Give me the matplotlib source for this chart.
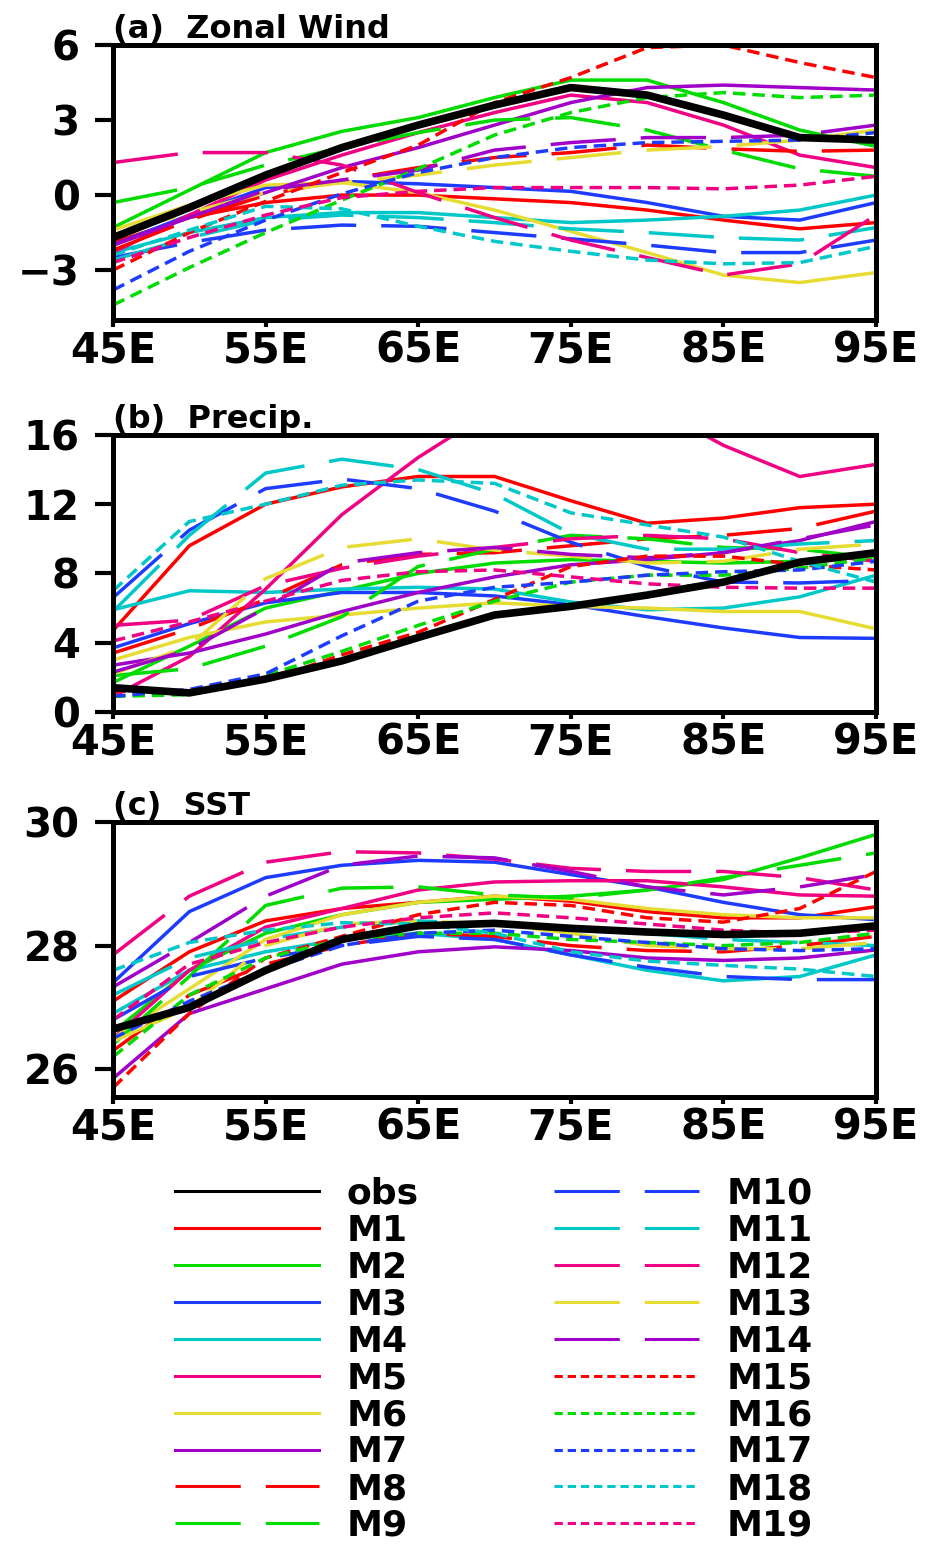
import matplotlib
matplotlib.use('Agg')
import matplotlib.pyplot as plt
from matplotlib.lines import Line2D

plt.rcParams['font.family'] = ['DejaVu Sans']
plt.rcParams['font.weight'] = 'bold'
plt.rcParams['lines.scale_dashes'] = False

# longitude grid (every 5 degrees)
lon = [45, 50, 55, 60, 65, 70, 75, 80, 85, 90, 95]
lon_ticks = [45, 55, 65, 75, 85, 95]
lon_labels = ['45E', '55E', '65E', '75E', '85E', '95E']
model_names = ['M%d' % i for i in range(1, 20)]

# (a) zonal wind
uwind_obs = [-1.7, -0.5, 0.8, 1.9, 2.8, 3.6, 4.3, 4.0, 3.2, 2.3, 2.2]
uwind_models = [
    [-1.9, -0.9, -0.3, 0.0, 0.0, -0.15, -0.3, -0.6, -1.0, -1.35, -1.1],   # M1
    [-1.3, 0.2, 1.7, 2.55, 3.1, 3.9, 4.6, 4.6, 3.7, 2.6, 1.95],          # M2
    [-2.0, -0.8, 0.3, 0.55, 0.45, 0.3, 0.15, -0.3, -0.85, -1.0, -0.3],   # M3
    [-2.3, -1.5, -0.9, -0.7, -0.7, -0.9, -1.1, -1.0, -0.85, -0.6, 0.0],  # M4
    [-2.3, -0.8, 0.6, 1.6, 2.5, 3.3, 4.0, 3.7, 2.8, 1.6, 1.1],           # M5
    [-1.4, -0.4, 0.4, 0.5, 0.1, -0.6, -1.45, -2.3, -3.2, -3.5, -3.1],    # M6
    [-2.0, -0.9, 0.1, 1.1, 1.9, 2.8, 3.7, 4.3, 4.4, 4.3, 4.2],           # M7
    [-2.2, -1.0, 0.0, 0.6, 1.1, 1.5, 1.7, 2.0, 1.85, 1.75, 1.8],         # M8
    [-0.3, 0.3, 1.2, 1.9, 2.5, 3.0, 3.1, 2.6, 1.8, 1.05, 0.75],          # M9
    [-2.5, -1.9, -1.4, -1.2, -1.25, -1.5, -1.75, -2.0, -2.3, -2.3, -1.8],  # M10
    [-2.6, -1.7, -1.0, -0.8, -0.9, -1.1, -1.35, -1.5, -1.7, -1.8, -1.3],   # M11
    [1.3, 1.7, 1.7, 1.2, 0.1, -0.9, -1.8, -2.5, -3.2, -2.75, -0.8],      # M12
    [-1.6, -0.7, 0.1, 0.5, 0.8, 1.2, 1.5, 1.8, 1.95, 2.2, 2.6],          # M13
    [-2.0, -0.9, 0.2, 0.6, 1.0, 1.8, 2.1, 2.3, 2.3, 2.4, 2.8],           # M14
    [-3.0, -1.5, -0.25, 0.9, 2.0, 3.7, 4.7, 5.9, 6.0, 5.3, 4.7],         # M15
    [-4.4, -2.9, -1.5, -0.2, 1.05, 2.4, 3.3, 3.9, 4.1, 3.9, 4.0],        # M16
    [-3.8, -2.25, -1.0, 0.05, 0.9, 1.5, 1.9, 2.1, 2.15, 2.2, 2.5],       # M17
    [-2.4, -1.4, -0.45, -0.55, -1.25, -1.85, -2.25, -2.6, -2.75, -2.7, -2.05],  # M18
    [-2.7, -1.7, -0.8, -0.1, 0.15, 0.3, 0.3, 0.3, 0.25, 0.4, 0.75],      # M19
]

# (b) precipitation
precip_obs = [1.4, 1.1, 1.9, 2.95, 4.3, 5.6, 6.1, 6.75, 7.5, 8.65, 9.2]
precip_models = [
    [4.7, 9.6, 12.0, 13.0, 13.6, 13.6, 12.2, 10.9, 11.2, 11.8, 12.0],   # M1
    [1.7, 3.8, 6.0, 7.0, 8.0, 8.6, 8.8, 8.7, 8.6, 8.7, 9.0],            # M2
    [3.7, 5.1, 6.3, 6.9, 6.9, 6.7, 6.2, 5.5, 4.85, 4.3, 4.25],          # M3
    [5.9, 7.0, 6.9, 7.1, 7.2, 7.1, 6.35, 5.9, 6.0, 6.65, 7.9],          # M4
    [0.9, 3.2, 7.1, 11.4, 14.7, 17.5, 18.6, 17.8, 15.4, 13.6, 14.3],    # M5
    [3.0, 4.3, 5.2, 5.6, 6.0, 6.3, 6.1, 6.0, 5.8, 5.8, 4.8],            # M6
    [2.7, 3.4, 4.5, 5.8, 6.9, 7.8, 8.5, 8.8, 9.2, 9.9, 11.0],           # M7
    [3.4, 4.8, 6.5, 8.5, 9.1, 9.2, 9.6, 10.0, 10.2, 10.6, 11.6],        # M8
    [2.1, 2.5, 3.8, 5.5, 8.4, 9.4, 10.2, 10.0, 9.5, 9.4, 8.9],          # M9
    [6.6, 10.5, 12.9, 13.45, 12.9, 11.6, 9.8, 8.4, 7.5, 7.45, 7.6],     # M10
    [5.8, 10.2, 13.8, 14.6, 14.0, 12.6, 10.3, 9.4, 9.4, 9.7, 9.9],      # M11
    [5.0, 5.3, 7.3, 8.3, 9.0, 9.5, 10.0, 10.2, 10.0, 9.2, 8.7],         # M12
    [2.2, 3.8, 7.7, 9.5, 10.0, 9.35, 9.0, 8.6, 8.7, 9.4, 9.7],          # M13
    [2.3, 3.6, 6.0, 8.6, 9.2, 9.5, 9.1, 8.9, 9.2, 10.0, 10.8],          # M14
    [1.2, 1.2, 1.8, 3.3, 4.6, 6.5, 8.4, 9.0, 9.0, 8.5, 8.2],            # M15
    [0.9, 1.0, 2.1, 3.5, 5.0, 6.4, 7.5, 7.9, 7.9, 8.3, 8.9],            # M16
    [0.9, 1.3, 2.2, 4.4, 6.4, 7.2, 7.5, 7.9, 8.1, 8.2, 8.7],            # M17
    [7.0, 11.0, 12.0, 13.1, 13.4, 13.2, 11.5, 10.8, 10.1, 8.7, 7.5],    # M18
    [4.1, 5.2, 6.4, 7.6, 8.1, 8.2, 7.8, 7.4, 7.2, 7.15, 7.15],          # M19
]

# (c) SST
sst_obs = [26.65, 27.0, 27.6, 28.1, 28.32, 28.36, 28.28, 28.22, 28.18, 28.2, 28.32]
sst_models = [
    [27.1, 27.9, 28.4, 28.6, 28.7, 28.8, 28.72, 28.55, 28.45, 28.45, 28.63],    # M1
    [26.6, 27.6, 28.2, 28.5, 28.7, 28.75, 28.8, 28.9, 29.07, 29.42, 29.8],      # M2
    [27.4, 28.55, 29.1, 29.3, 29.38, 29.35, 29.15, 28.95, 28.7, 28.5, 28.42],   # M3
    [26.9, 27.6, 27.9, 28.1, 28.2, 28.1, 27.85, 27.6, 27.43, 27.5, 27.85],      # M4
    [26.5, 27.6, 28.3, 28.6, 28.9, 29.03, 29.05, 29.05, 28.95, 28.82, 28.8],    # M5
    [26.5, 27.3, 28.1, 28.5, 28.7, 28.8, 28.75, 28.6, 28.5, 28.45, 28.45],      # M6
    [25.85, 26.9, 27.3, 27.7, 27.9, 27.98, 27.92, 27.8, 27.76, 27.8, 27.93],    # M7
    [26.3, 27.2, 27.7, 28.0, 28.2, 28.15, 28.0, 27.92, 27.9, 28.0, 28.15],      # M8
    [26.4, 27.5, 28.65, 28.93, 28.95, 28.82, 28.77, 28.9, 29.1, 29.3, 29.5],    # M9
    [26.8, 27.5, 27.8, 28.0, 28.15, 28.1, 27.85, 27.65, 27.5, 27.45, 27.45],    # M10
    [27.2, 27.8, 28.1, 28.3, 28.4, 28.35, 28.25, 28.2, 28.1, 28.05, 28.0],      # M11
    [27.85, 28.8, 29.35, 29.52, 29.5, 29.4, 29.25, 29.2, 29.2, 29.1, 28.9],     # M12
    [26.45, 27.0, 28.0, 28.35, 28.4, 28.35, 28.2, 28.0, 27.95, 27.95, 28.05],   # M13
    [27.33, 28.05, 28.8, 29.3, 29.45, 29.42, 29.2, 28.95, 28.82, 28.95, 29.15], # M14
    [25.7, 26.9, 27.8, 28.15, 28.5, 28.7, 28.65, 28.45, 28.38, 28.6, 29.2],     # M15
    [26.2, 27.2, 27.8, 28.1, 28.2, 28.2, 28.1, 28.05, 28.0, 28.05, 28.2],       # M16
    [26.5, 27.1, 27.6, 28.0, 28.2, 28.25, 28.15, 28.05, 27.95, 27.92, 27.95],   # M17
    [27.6, 28.05, 28.25, 28.37, 28.35, 28.2, 27.9, 27.75, 27.68, 27.62, 27.5],  # M18
    [26.8, 27.7, 28.05, 28.3, 28.45, 28.53, 28.45, 28.35, 28.25, 28.2, 28.25],  # M19
]

# GrADS-like colours: solid M1-M7, long dash M8-M14, short dash M15-M19
base_colors = ['#ff0000', '#00dc00', '#1e3cff', '#00c8c8', '#f00082', '#e6dc32', '#a000c8']
model_colors = base_colors + base_colors + base_colors[:5]
model_kinds = ['solid'] * 7 + ['long'] * 7 + ['short'] * 5
plot_dash = {'solid': '-', 'long': (0, (47, 18)), 'short': (0, (9, 5))}
legend_dash = {'solid': '-', 'long': (0, (47, 18)), 'short': (0, (6, 3.5))}

panels = [
    ('(a)  Zonal Wind', uwind_obs, uwind_models, (-5, 6), [-3, 0, 3, 6]),
    ('(b)  Precip.', precip_obs, precip_models, (0, 16), [0, 4, 8, 12, 16]),
    ('(c)  SST', sst_obs, sst_models, (25.55, 30), [26, 28, 30]),
]
# axes boxes in figure fractions (left, bottom, width, height)
boxes = [
    [0.1218, 0.7927, 0.8222, 0.1781],
    [0.1218, 0.5389, 0.8222, 0.1794],
    [0.1218, 0.2895, 0.8222, 0.1781],
]

fig = plt.figure(figsize=(9.28, 15.44), dpi=100)

for (title, obs, models, ylim, yticks), box in zip(panels, boxes):
    ax = fig.add_axes(box)
    for vals, c, k in zip(models, model_colors, model_kinds):
        ax.plot(lon, vals, color=c, lw=2.5, linestyle=plot_dash[k])
    ax.plot(lon, obs, color='black', lw=5.5, solid_capstyle='butt')
    ax.set_xlim(45, 95)
    ax.set_ylim(*ylim)
    ax.set_xticks(lon_ticks)
    ax.set_xticklabels(lon_labels)
    ax.set_yticks(yticks)
    for s in ax.spines.values():
        s.set_linewidth(3.6)
    ax.tick_params(axis='x', direction='out', length=5, width=3, pad=2, labelsize=30)
    ax.tick_params(axis='y', direction='out', length=13, width=3, pad=11, labelsize=29)
    ax.text(0.0, 1.025, title, transform=ax.transAxes, ha='left', va='baseline',
            fontsize=23, fontweight='bold')

# legend
handles = [Line2D([], [], color='black', lw=2.2)]
for c, k in zip(model_colors, model_kinds):
    handles.append(Line2D([], [], color=c, lw=2.2, linestyle=legend_dash[k]))
labels = ['obs'] + model_names
fig.legend(handles, labels, ncol=2, loc='upper left',
           bbox_to_anchor=(175 / 928, 1 - 1177 / 1544),
           frameon=False, prop={'size': 26, 'weight': 'bold'},
           handlelength=4.0, handletextpad=0.76, columnspacing=3.75,
           labelspacing=0.08, borderpad=0, borderaxespad=0)

fig.savefig('out.png', dpi=100)
